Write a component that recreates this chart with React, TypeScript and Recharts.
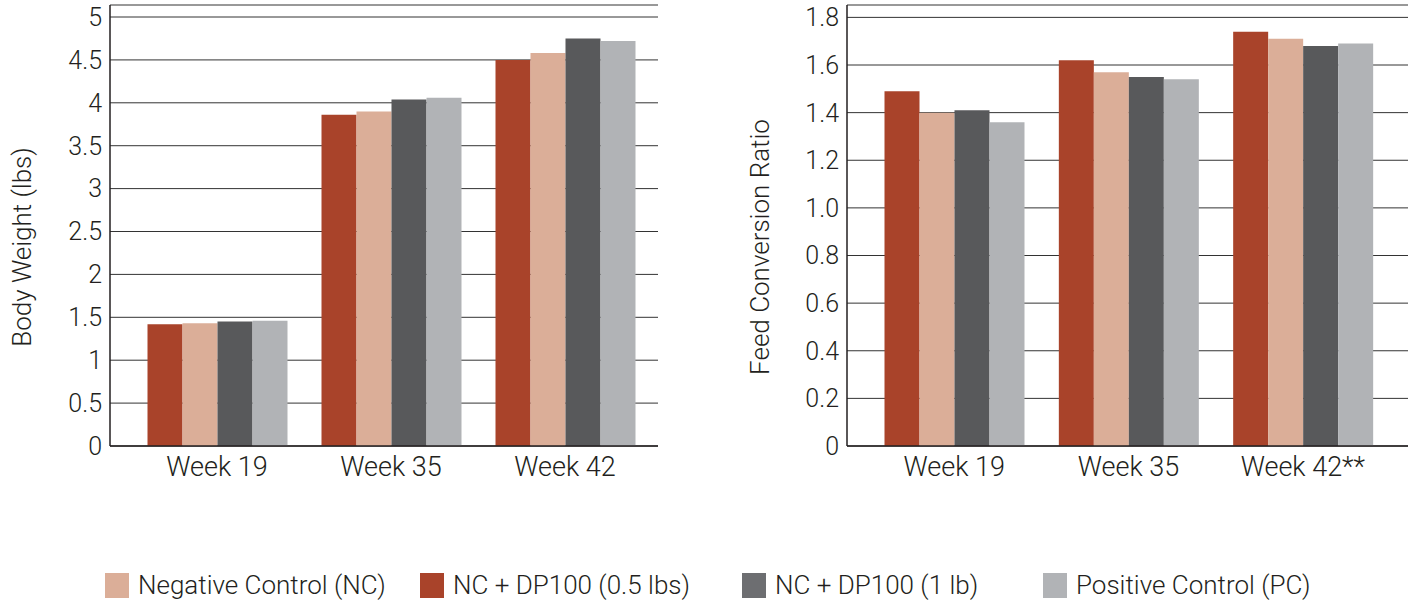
import React from 'react'
import { BarChart, Bar, XAxis, YAxis, CartesianGrid } from 'recharts'

const weeks = ['Week 19', 'Week 35', 'Week 42']
const weeksFcr = ['Week 19', 'Week 35', 'Week 42**']

// body weight (lbs)
const bwDp05 = [1.42, 3.86, 4.5]
const bwNc = [1.43, 3.9, 4.58]
const bwDp1 = [1.45, 4.04, 4.75]
const bwPc = [1.46, 4.06, 4.72]

// feed conversion ratio
const fcrDp05 = [1.49, 1.62, 1.74]
const fcrNc = [1.4, 1.57, 1.71]
const fcrDp1 = [1.41, 1.55, 1.68]
const fcrPc = [1.36, 1.54, 1.69]

const bwTicks = [0, 0.5, 1, 1.5, 2, 2.5, 3, 3.5, 4, 4.5, 5]
const fcrTicks = [0, 0.2, 0.4, 0.6, 0.8, 1.0, 1.2, 1.4, 1.6, 1.8]

const COLORS = {
  nc: '#DBAE98',
  dp05: '#A9432A',
  dp1: '#58595B',
  pc: '#B1B3B6',
}

const LEGEND = [
  { label: 'Negative Control (NC)', color: COLORS.nc },
  { label: 'NC + DP100 (0.5 lbs)', color: COLORS.dp05 },
  { label: 'NC + DP100 (1 lb)', color: '#6D6E71' },
  { label: 'Positive Control (PC)', color: COLORS.pc },
]
const legendLeft = [105, 420, 742, 1043]

const FONT = 'Roboto, "Liberation Sans", sans-serif'
const TXT = '#231F20'
const tick = { fill: TXT, fontSize: 25, fontFamily: FONT, fontWeight: 300 }
const catTick = { fill: TXT, fontSize: 27, fontFamily: FONT, fontWeight: 300 }

const bwData = weeks.map((w, i) => ({ week: w, dp05: bwDp05[i], nc: bwNc[i], dp1: bwDp1[i], pc: bwPc[i] }))
const fcrData = weeksFcr.map((w, i) => ({ week: w, dp05: fcrDp05[i], nc: fcrNc[i], dp1: fcrDp1[i], pc: fcrPc[i] }))

const axisTitle = (text: string, x: number, y: number) => () => (
  <text
    x={x}
    y={y}
    transform={`rotate(-90 ${x} ${y})`}
    textAnchor="middle"
    dominantBaseline="central"
    fill={TXT}
    fontSize={26}
    fontFamily={FONT}
    fontWeight={300}
  >
    {text}
  </text>
)

function Bars() {
  return [
    <Bar key="dp05" dataKey="dp05" fill={COLORS.dp05} isAnimationActive={false} />,
    <Bar key="nc" dataKey="nc" fill={COLORS.nc} isAnimationActive={false} />,
    <Bar key="dp1" dataKey="dp1" fill={COLORS.dp1} isAnimationActive={false} />,
    <Bar key="pc" dataKey="pc" fill={COLORS.pc} isAnimationActive={false} />,
  ]
}

export default function App() {
  return (
    <div style={{ position: 'absolute', left: 0, top: 0, width: 1408, height: 600, background: '#fff', fontFamily: FONT }}>
      <div style={{ position: 'absolute', left: 0, top: 0 }}>
        <BarChart width={700} height={500} data={bwData} margin={{ top: 5, right: 42, left: 0, bottom: 24 }}
          barCategoryGap={17.5} barGap={0}>
          <CartesianGrid vertical={false} stroke="#333" strokeOpacity={1} />
          <XAxis dataKey="week" tick={catTick} tickLine={false} tickMargin={5} axisLine={{ stroke: TXT, strokeWidth: 1.5 }}
            padding={{ left: 20, right: 6 }} />
          <YAxis width={110} domain={[0, 5.14]} ticks={bwTicks} allowDataOverflow tick={tick} tickLine={false}
            axisLine={{ stroke: TXT, strokeWidth: 1.5 }}
            label={{ content: axisTitle('Body Weight (lbs)', 22, 247) }} />
          {Bars()}
        </BarChart>
      </div>
      <div style={{ position: 'absolute', left: 700, top: 0 }}>
        <BarChart width={708} height={500} data={fcrData} margin={{ top: 5, right: 0, left: 0, bottom: 24 }}
          barCategoryGap={17.5} barGap={0}>
          <CartesianGrid vertical={false} stroke="#333" strokeOpacity={1} />
          <XAxis dataKey="week" tick={catTick} tickLine={false} tickMargin={5} axisLine={{ stroke: TXT, strokeWidth: 1.5 }}
            padding={{ left: 20, right: 18 }} />
          <YAxis width={147} domain={[0, 1.852]} ticks={fcrTicks} allowDataOverflow tick={tick} tickLine={false}
            tickFormatter={(v: number) => (v === 0 ? '0' : v.toFixed(1))}
            axisLine={{ stroke: TXT, strokeWidth: 1.5 }}
            label={{ content: axisTitle('Feed Conversion Ratio', 60, 247) }} />
          {Bars()}
        </BarChart>
      </div>
      {LEGEND.map((l, i) => (
        <div key={l.label} style={{ position: 'absolute', left: legendLeft[i], top: 570, display: 'flex', alignItems: 'center' }}>
          <div style={{ width: 24, height: 25, background: l.color, marginRight: 9 }} />
          <span style={{ fontSize: 26, fontWeight: 300, color: TXT, whiteSpace: 'nowrap' }}>{l.label}</span>
        </div>
      ))}
    </div>
  )
}
